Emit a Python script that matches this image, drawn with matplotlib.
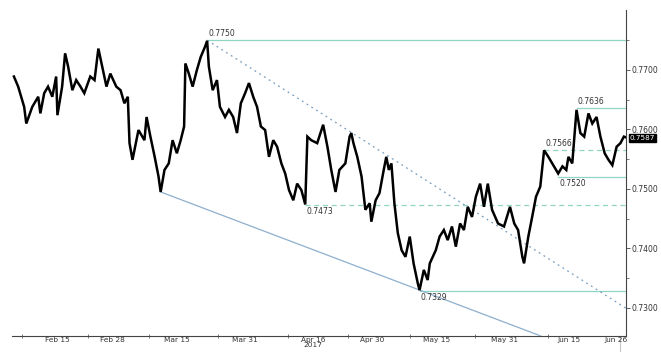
import matplotlib
matplotlib.use("Agg")
import matplotlib.pyplot as plt
from matplotlib.ticker import FixedLocator

# days since 1 Feb 2017 and price (AUD/USD style series)
days = [3.9, 4.9, 6.3, 6.8, 8.2, 9.6, 10.1, 11.0, 11.9, 12.9, 13.8, 14.1, 15.2, 15.9, 16.6,
        17.6, 18.5, 19.5, 20.4, 21.8, 22.8, 23.7, 24.6, 25.6, 26.5, 27.9, 28.9, 29.8, 30.6,
        31.0, 31.7, 33.1, 34.5, 35.0, 35.9, 36.9, 37.8, 38.3, 39.2, 40.2, 41.1, 42.1, 43.0,
        43.8, 44.1, 44.9, 45.8, 46.8, 47.7, 48.7, 49.2, 49.6, 50.5, 51.5, 52.2, 53.4, 54.3,
        55.3, 56.2, 57.1, 58.1, 59.0, 60.0, 60.9, 61.8, 62.8, 63.7, 64.7, 65.6, 66.6, 67.5,
        68.4, 69.4, 70.3, 71.3, 72.2, 72.7, 73.6, 75.0, 76.0, 76.4, 77.4, 78.3, 79.3, 80.2,
        81.6, 82.6, 83.0, 83.5, 84.4, 85.4, 86.3, 87.3, 87.7, 88.7, 89.6, 90.6, 91.2, 91.8,
        92.4, 93.1, 93.9, 94.8, 95.7, 96.7, 97.6, 98.6, 99.0, 100.0, 100.9, 101.4, 102.8,
        103.7, 104.7, 105.6, 106.6, 107.5, 108.5, 109.4, 110.3, 111.3, 112.2, 113.2, 114.1,
        115.0, 116.0, 117.4, 118.8, 120.2, 121.2, 122.1, 123.1, 123.5, 124.5, 125.4, 126.3,
        127.3, 128.2, 129.2, 130.1, 131.5, 132.5, 133.4, 133.9, 134.8, 135.8, 136.7, 137.6,
        138.6, 139.5, 140.5, 141.4, 142.4, 143.3, 144.2, 145.2, 146.1, 146.9, 147.3]
price = [0.7689, 0.7672, 0.7638, 0.7610, 0.7638, 0.7655, 0.7627, 0.7661, 0.7672, 0.7655,
         0.7689, 0.7624, 0.7672, 0.7728, 0.7706, 0.7666, 0.7683, 0.7672, 0.7661, 0.7689,
         0.7683, 0.7736, 0.7706, 0.7672, 0.7694, 0.7672, 0.7666, 0.7644, 0.7655, 0.7577,
         0.7549, 0.7599, 0.7582, 0.7621, 0.7588, 0.7554, 0.7521, 0.7495, 0.7532, 0.7543,
         0.7582, 0.7560, 0.7582, 0.7605, 0.7711, 0.7694, 0.7672, 0.7700, 0.7722, 0.7739,
         0.7749, 0.7706, 0.7666, 0.7683, 0.7638, 0.7621, 0.7633, 0.7621, 0.7594, 0.7644,
         0.7661, 0.7678, 0.7655, 0.7638, 0.7605, 0.7599, 0.7554, 0.7582, 0.7571, 0.7543,
         0.7526, 0.7498, 0.7481, 0.7509, 0.7498, 0.7474, 0.7588, 0.7582, 0.7577, 0.7599,
         0.7608, 0.7571, 0.7532, 0.7495, 0.7532, 0.7543, 0.7588, 0.7594, 0.7577, 0.7554,
         0.7521, 0.7465, 0.7476, 0.7445, 0.7481, 0.7493, 0.7532, 0.7554, 0.7532, 0.7543,
         0.7476, 0.7426, 0.7397, 0.7386, 0.7420, 0.7375, 0.7341, 0.7330, 0.7364, 0.7347,
         0.7375, 0.7397, 0.7420, 0.7431, 0.7414, 0.7437, 0.7403, 0.7442, 0.7431, 0.7470,
         0.7453, 0.7487, 0.7509, 0.7470, 0.7509, 0.7465, 0.7442, 0.7437, 0.7470, 0.7442,
         0.7431, 0.7386, 0.7375, 0.7420, 0.7453, 0.7487, 0.7504, 0.7565, 0.7554, 0.7543,
         0.7526, 0.7538, 0.7532, 0.7554, 0.7543, 0.7633, 0.7594, 0.7588, 0.7627, 0.7610,
         0.7621, 0.7588, 0.7560, 0.7549, 0.7540, 0.7571, 0.7577, 0.7588, 0.7587]

# annotated levels
levels = [0.7750, 0.7636, 0.7566, 0.7520, 0.7473, 0.7329]
level_start = [49.2, 135.8, 128.2, 131.5, 72.2, 99.0]
level_dashed = [False, False, True, False, True, False]
level_label_above = [True, True, True, False, False, False]

# trend lines (day, price endpoints)
down_trend_days = [49.2, 147.3]
down_trend_prices = [0.7750, 0.7300]
low_trend_days = [38.3, 127.4]
low_trend_prices = [0.7495, 0.7253]

last_price = 0.7587
cursor_day = 146.0

xtick_days = [14, 27, 42, 58, 74, 88, 103, 119, 134, 145]
xtick_labels = ["Feb 15", "Feb 28", "Mar 15", "Mar 31", "Apr 16\n2017", "Apr 30",
                "May 15", "May 31", "Jun 15", "Jun 26"]
xminor_days = [5.8, 21.3, 35.6, 51.7, 68.1, 82.2, 96.7, 112.0, 129.1]
yticks = [0.7300, 0.7400, 0.7500, 0.7600, 0.7700]
yminor = [0.7350, 0.7450, 0.7550, 0.7650, 0.7750]

XMIN, XMAX = 3.45, 147.4
YMIN, YMAX = 0.72529, 0.78008

narrow = ["Liberation Sans Narrow", "DejaVu Sans"]
GREEN = "#8fd5c2"
TXT = "#333333"

fig = plt.figure(figsize=(6.61, 3.52), dpi=100)
ax = fig.add_axes([12 / 661, 16 / 352, (626 - 12) / 661, (336 - 10) / 352])
ax.set_xlim(XMIN, XMAX)
ax.set_ylim(YMIN, YMAX)

ax.plot(days, price, color="black", lw=1.8, solid_joinstyle="miter", zorder=5)

for lv, st, dsh, above in zip(levels, level_start, level_dashed, level_label_above):
    ax.plot([st, XMAX], [lv, lv], color=GREEN, lw=0.9,
            ls=(0, (4, 3)) if dsh else "-", zorder=3)
    ax.annotate(f"{lv:.4f}", xy=(st, lv), xytext=(1, 1.5 if above else -1.5),
                textcoords="offset points", ha="left",
                va="bottom" if above else "top", fontsize=5.5, color=TXT,
                family=narrow, zorder=6)

ax.plot(down_trend_days, down_trend_prices, color="#7a9ec0", lw=0.9,
        ls=(0, (1.5, 3)), zorder=4)
ax.plot(low_trend_days, low_trend_prices, color="#8eafcd", lw=0.9, zorder=4)

# cursor marker under the axis
ax.plot([cursor_day, cursor_day], [YMIN, YMIN - 0.003], color="#c8c8c8", lw=0.8,
        clip_on=False, zorder=1)

# axes styling
for s in ["top", "left"]:
    ax.spines[s].set_visible(False)
for s in ["bottom", "right"]:
    ax.spines[s].set_color("#444444")
    ax.spines[s].set_linewidth(0.8)

ax.yaxis.tick_right()
ax.set_yticks(yticks)
ax.set_yticklabels([f"{v:.4f}" for v in yticks])
ax.yaxis.set_minor_locator(FixedLocator(yminor))
ax.tick_params(axis="y", which="major", length=3, width=0.6, direction="out",
               labelsize=5.5, pad=1, colors="#444444")
ax.tick_params(axis="y", which="minor", length=2, width=0.5, colors="#444444")
for lab in ax.get_yticklabels():
    lab.set_family(narrow)
    lab.set_color(TXT)

ax.set_xticks(xtick_days)
ax.set_xticklabels(xtick_labels)
ax.xaxis.set_minor_locator(FixedLocator(xminor_days))
ax.tick_params(axis="x", which="major", length=0, labelsize=5.3, pad=1)
ax.tick_params(axis="x", which="minor", length=3, width=0.5, colors="#444444",
               direction="inout")
for lab in ax.get_xticklabels():
    lab.set_family(narrow)
    lab.set_color(TXT)
    lab.set_linespacing(0.8)

# last price tag
ax.annotate(f"{last_price:.4f}", xy=(1.0, last_price), xycoords=("axes fraction", "data"),
            xytext=(2.5, -0.5), textcoords="offset points", ha="left", va="center",
            fontsize=5.2, color="white", family=narrow,
            bbox=dict(boxstyle="square,pad=0.1", fc="black", ec="black"),
            annotation_clip=False, zorder=10)

fig.savefig("out.png", dpi=100, facecolor="white")
